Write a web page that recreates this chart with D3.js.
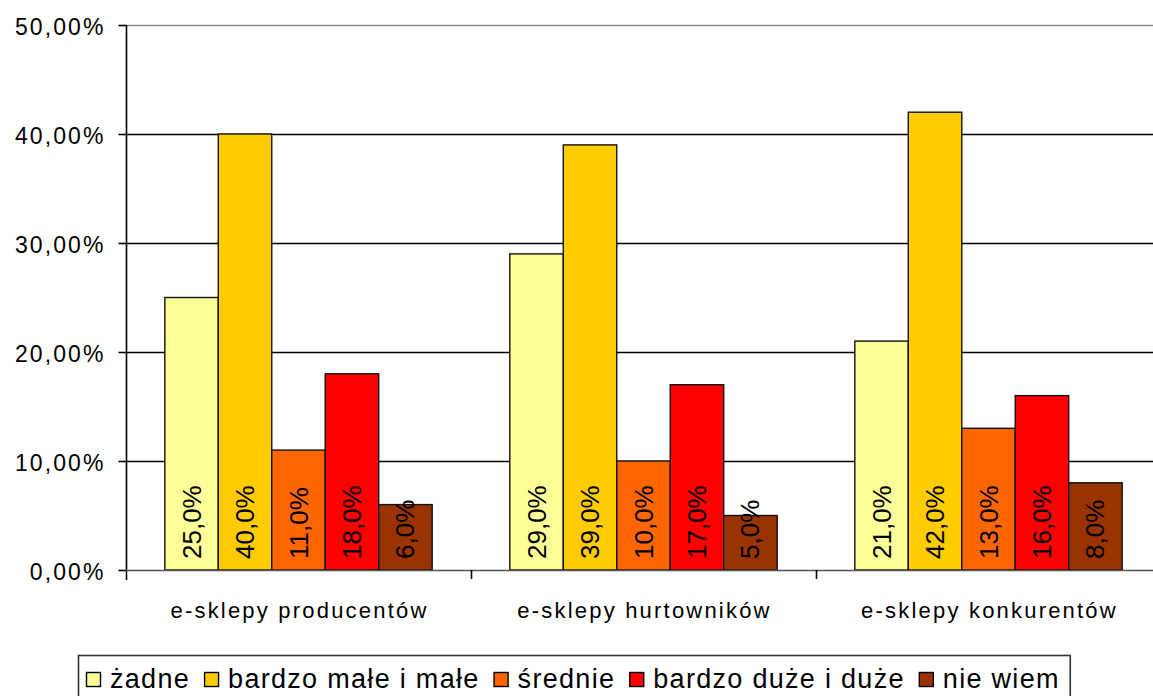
<!DOCTYPE html>
<html>
<head>
<meta charset="utf-8">
<script src="https://cdn.jsdelivr.net/npm/d3@7/dist/d3.min.js"></script>
<style>
  html, body { margin: 0; padding: 0; background: #fff; }
  svg { display: block; }
  text { font-family: "Liberation Sans", Arial, sans-serif; fill: #000; }
</style>
</head>
<body>
<svg id="chart" width="1153" height="696"></svg>
<script>
// Categories, series names and values (percent)
const categories = ["e-sklepy producentów", "e-sklepy hurtowników", "e-sklepy konkurentów"];
const seriesNames = ["żadne", "bardzo małe i małe", "średnie", "bardzo duże i duże", "nie wiem"];
const seriesColors = ["#FFFF99", "#FFCC00", "#FF6600", "#FF0000", "#993300"];
const zadne = [25, 29, 21];
const bardzoMale = [40, 39, 42];
const srednie = [11, 10, 13];
const bardzoDuze = [18, 17, 16];
const nieWiem = [6, 5, 8];
const yTicks = [0, 10, 20, 30, 40, 50];

const seriesValues = [zadne, bardzoMale, srednie, bardzoDuze, nieWiem];

const svg = d3.select("#chart");
const plot = { left: 126, right: 1161, top: 25, bottom: 570 };

// One band per category; inside each band the five bars sit side by side
const x0 = d3.scaleBand().domain(categories).range([plot.left, plot.right]);
const barW = x0.bandwidth() * 0.155;
const groupW = barW * seriesNames.length;
const x1 = d3.scaleBand().domain(seriesNames)
  .range([(x0.bandwidth() - groupW) / 2, (x0.bandwidth() + groupW) / 2]);
const y = d3.scaleLinear().domain([0, 50]).range([plot.bottom, plot.top]);

const fmtAxis = v => d3.format(".2f")(v).replace(".", ",") + "%";
const fmtLabel = v => d3.format(".1f")(v).replace(".", ",") + "%";

// Horizontal gridlines
svg.append("g").selectAll("line").data(yTicks.filter(t => t > 0)).join("line")
  .attr("x1", plot.left).attr("x2", 1153)
  .attr("y1", d => Math.round(y(d)) + 0.5).attr("y2", d => Math.round(y(d)) + 0.5)
  .attr("stroke", d => d === 50 ? "#888" : "#000").attr("stroke-width", 1.4);

// Y axis
const yAxis = d3.axisLeft(y).tickValues(yTicks).tickSize(8).tickFormat(fmtAxis);
const gy = svg.append("g").attr("transform", `translate(${plot.left + 0.5},0)`).call(yAxis);
gy.select(".domain").attr("d", `M0,${plot.top}V${plot.bottom + 10}`).attr("stroke", "#000").attr("stroke-width", 1.6);
gy.selectAll(".tick line").attr("stroke", "#000").attr("stroke-width", 1.6);
gy.selectAll(".tick text").attr("x", -21).attr("dy", "0.42em")
  .style("font-size", "23px").style("letter-spacing", "2.1px").attr("fill", "#222");

// Bars with rotated value labels
const groups = svg.append("g").selectAll("g").data(categories).join("g")
  .attr("transform", d => `translate(${x0(d)},0)`);

groups.each(function (cat, ci) {
  const g = d3.select(this);
  const rows = seriesNames.map((s, si) => ({ s, si, v: seriesValues[si][ci] }));
  g.selectAll("rect").data(rows).join("rect")
    .attr("x", d => x1(d.s))
    .attr("y", d => y(d.v))
    .attr("width", x1.bandwidth())
    .attr("height", d => y(0) - y(d.v))
    .attr("fill", d => seriesColors[d.si])
    .attr("stroke", "#111").attr("stroke-width", 1.4);
  g.selectAll("text").data(rows).join("text")
    .attr("transform", d => `translate(${x1(d.s) + x1.bandwidth() / 2 + 9},${y(0) - 11}) rotate(-90)`)
    .attr("text-anchor", "start")
    .style("font-size", "26px").attr("fill", "#222")
    .text(d => fmtLabel(d.v));
});

// X axis baseline and category separators
svg.append("line").attr("x1", plot.left).attr("x2", 1153)
  .attr("y1", plot.bottom + 0.5).attr("y2", plot.bottom + 0.5)
  .attr("stroke", "#555").attr("stroke-width", 1.6);
svg.append("g").selectAll("line").data(categories.slice(1)).join("line")
  .attr("x1", d => Math.round(x0(d)) + 0.5).attr("x2", d => Math.round(x0(d)) + 0.5)
  .attr("y1", plot.bottom).attr("y2", plot.bottom + 9)
  .attr("stroke", "#000").attr("stroke-width", 1.6);
svg.append("g").selectAll("text").data(categories).join("text")
  .attr("x", d => x0(d) + x0.bandwidth() / 2 + 1).attr("y", 618)
  .attr("text-anchor", "middle")
  .style("font-size", "22px").style("letter-spacing", "2.2px").attr("fill", "#222")
  .text(d => d);

// Legend
const legend = svg.append("g");
const legendBox = legend.append("rect").attr("fill", "#fff").attr("stroke", "#333").attr("stroke-width", 1.6);
let cx = 86;
const ly = 688;
seriesNames.forEach((name, i) => {
  legend.append("rect").attr("x", cx + 0.5).attr("y", 672.5).attr("width", 14).attr("height", 14)
    .attr("fill", seriesColors[i]).attr("stroke", "#000").attr("stroke-width", 1.4);
  const t = legend.append("text").attr("x", cx + 24).attr("y", ly)
    .style("font-size", "27px").style("letter-spacing", "1.3px").attr("fill", "#222").text(name);
  cx += 24 + t.node().getComputedTextLength() + 14;
});
legendBox.attr("x", 78.5).attr("y", 655.5).attr("width", cx - 78 - 4).attr("height", 60);
</script>
</body>
</html>
